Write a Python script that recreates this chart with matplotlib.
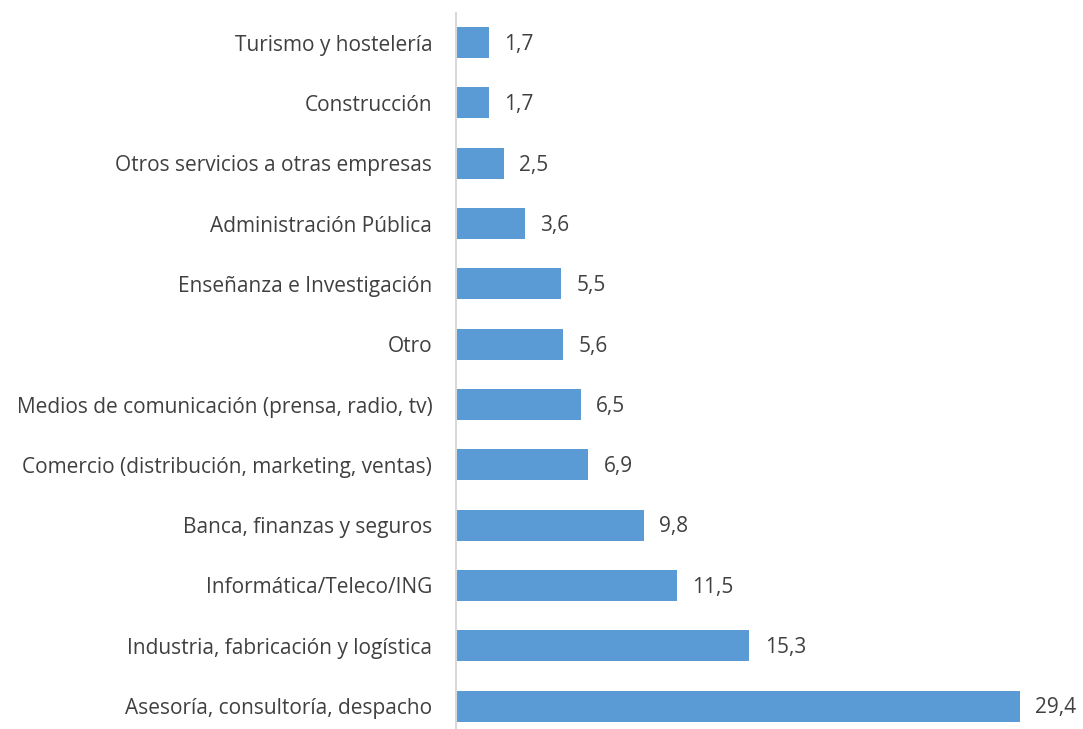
import matplotlib
matplotlib.use("Agg")
import matplotlib.pyplot as plt

sectores = [
    "Asesoría, consultoría, despacho",
    "Industria, fabricación y logística",
    "Informática/Teleco/ING",
    "Banca, finanzas y seguros",
    "Comercio (distribución, marketing, ventas)",
    "Medios de comunicación (prensa, radio, tv)",
    "Otro",
    "Enseñanza e Investigación",
    "Administración Pública",
    "Otros servicios a otras empresas",
    "Construcción",
    "Turismo y hostelería",
]
porcentajes = [29.4, 15.3, 11.5, 9.8, 6.9, 6.5, 5.6, 5.5, 3.6, 2.5, 1.7, 1.7]

plt.rcParams["font.family"] = ["Open Sans", "DejaVu Sans"]
texto = "#404040"

fig = plt.figure(figsize=(10.83, 7.29), dpi=100)
ax = fig.add_axes([0.421, 0.0, 0.549, 0.982])

pos = range(len(sectores))
ax.barh(pos, porcentajes, height=0.514, color="#5B9BD5")
for y, v in zip(pos, porcentajes):
    ax.annotate(f"{v:.1f}".replace(".", ","), (v, y - 0.03), xytext=(11, 0),
                textcoords="offset points", va="center", ha="left",
                fontsize=15, color=texto)

ax.set_xlim(0, 31)
ax.set_ylim(-0.38, 11.49)
ax.set_yticks(list(pos))
ax.set_yticklabels(sectores, fontsize=15, color=texto)
ax.tick_params(axis="y", length=0, pad=17)
ax.set_xticks([])
for s in ["top", "right", "bottom"]:
    ax.spines[s].set_visible(False)
ax.spines["left"].set_color("#D9D9D9")
ax.spines["left"].set_linewidth(1.5)

fig.savefig("out.png", dpi=100)
